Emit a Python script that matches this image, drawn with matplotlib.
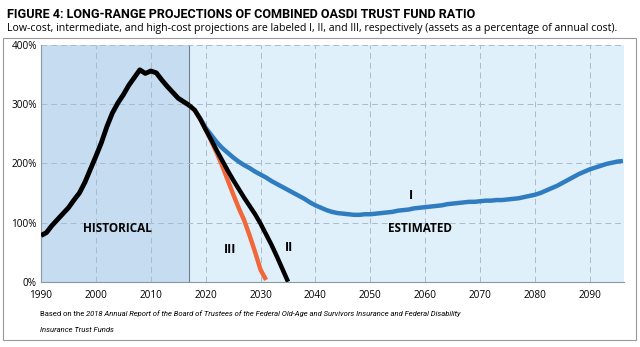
import matplotlib.pyplot as plt
import numpy as np
from matplotlib.patches import Rectangle

# historical ratio, 1990-2017
hist_years = list(range(1990, 2018))
hist_vals = [78, 83, 95, 105, 115, 125, 138, 150, 168, 190, 212, 235, 262, 285, 302,
             316, 332, 345, 358, 352, 356, 353, 341, 330, 320, 310, 304, 298]

# low-cost projection (I), 2017-2096
low_years = list(range(2017, 2097))
low_vals = [298, 290, 276, 260, 248, 236, 226, 218, 210, 203, 197, 192, 186, 181, 176,
            170, 165, 160, 155, 150, 145, 140, 134, 129, 125, 121, 118, 116, 115, 114,
            113, 113, 114, 114, 115, 116, 117, 118, 120, 121, 122, 124, 125, 126, 127,
            128, 129, 131, 132, 133, 134, 135, 135, 136, 137, 137, 138, 138, 139, 140,
            141, 143, 145, 147, 150, 154, 158, 162, 167, 172, 177, 182, 186, 190, 193,
            196, 199, 201, 203, 204]

# intermediate projection (II)
mid_years = list(range(2017, 2036))
mid_vals = [298, 290, 275, 257, 240, 222, 205, 188, 172, 157, 142, 128, 114, 98, 80,
            62, 42, 21, 0]

# high-cost projection (III)
high_years = list(range(2017, 2032))
high_vals = [298, 290, 275, 257, 238, 218, 196, 172, 148, 125, 104, 78, 50, 20, 3]

x_ticks = list(range(1990, 2100, 10))
y_ticks = [0, 100, 200, 300, 400]

c_blue = '#2f7cc0'
c_orange = '#f0683a'
c_hist = '#c5dcf1'
c_est = '#dff0fb'
c_grid = '#a9bccd'

narrow = ['Roboto', 'DejaVu Sans']
plt.rcParams['font.family'] = ['Open Sans', 'DejaVu Sans']
fig = plt.figure(figsize=(6.4, 3.47), dpi=100)

# outer frame
fig.patches.append(Rectangle((3 / 640, 7 / 347), 633 / 640, 302 / 347, transform=fig.transFigure,
                             fill=False, edgecolor='#9a9a9a', linewidth=0.8))

fig.text(7 / 640, 1 - 14 / 347, 'FIGURE 4: LONG-RANGE PROJECTIONS OF COMBINED OASDI TRUST FUND RATIO',
         fontsize=9.1, fontweight='bold', va='center', ha='left', family=narrow)
fig.text(7 / 640, 1 - 29 / 347, 'Low-cost, intermediate, and high-cost projections are labeled I, II, and III, '
         'respectively (assets as a percentage of annual cost).',
         fontsize=7.6, va='center', ha='left')

ax = fig.add_axes([41 / 640, 1 - 281.7 / 347, 583 / 640, 236.7 / 347])
ax.set_xlim(1990, 2096.2)
ax.set_ylim(0, 400)
ax.axvspan(1990, 2017, color=c_hist, zorder=0, lw=0)
ax.axvspan(2017, 2100, color=c_est, zorder=0, lw=0)
ax.axvline(2017, color='#6f7f8c', lw=0.8, zorder=1)

for x in x_ticks[1:]:
    ax.axvline(x, color=c_grid, lw=0.7, ls=(0, (6, 4)), zorder=1)
for y in y_ticks[1:]:
    ax.axhline(y, color=c_grid, lw=0.7, ls=(0, (6, 4)), zorder=1)

ax.plot(low_years, low_vals, color=c_blue, lw=3.2, solid_capstyle='butt', zorder=3)
ax.plot(high_years, high_vals, color=c_orange, lw=3.2, solid_capstyle='butt', zorder=4)
ax.plot(mid_years, mid_vals, color='black', lw=3.2, solid_capstyle='butt', zorder=5)
ax.plot(hist_years, hist_vals, color='black', lw=3.5, solid_capstyle='butt', zorder=5)

ax.text(2004, 90, 'HISTORICAL', fontsize=8.5, fontweight='bold', ha='center', va='center')
ax.text(2059, 90, 'ESTIMATED', fontsize=8.5, fontweight='bold', ha='center', va='center')
ax.text(2057.4, 146, 'I', fontsize=9, fontweight='bold', ha='center', va='center')
ax.text(2035.2, 58, 'II', fontsize=9, fontweight='bold', ha='center', va='center')
ax.text(2024.4, 55, 'III', fontsize=9, fontweight='bold', ha='center', va='center')

ax.set_xticks(x_ticks)
ax.set_yticks(y_ticks)
ax.set_yticklabels([f'{v}%' for v in y_ticks])
ax.tick_params(length=0, labelsize=7.2)
ax.tick_params(axis='x', pad=6)
ax.tick_params(axis='y', pad=3)
for s in ['top', 'right']:
    ax.spines[s].set_visible(False)
for s in ['left', 'bottom']:
    ax.spines[s].set_color('#8a96a0')
    ax.spines[s].set_linewidth(0.8)

t = fig.text(40 / 640, 1 - 314 / 347, 'Based on the ', fontsize=5.5, va='center', ha='left', family=narrow)
ax.annotate('2018 Annual Report of the Board of Trustees of the Federal Old-Age and Survivors '
            'Insurance and Federal Disability', xy=(1, 0), xycoords=t, va='bottom', ha='left',
            fontsize=5.5, style='italic', family=narrow, annotation_clip=False)
fig.text(40 / 640, 1 - 330 / 347, 'Insurance Trust Funds', fontsize=5.5, va='center', ha='left',
         style='italic', family=narrow)

fig.savefig('out.png', dpi=100)
